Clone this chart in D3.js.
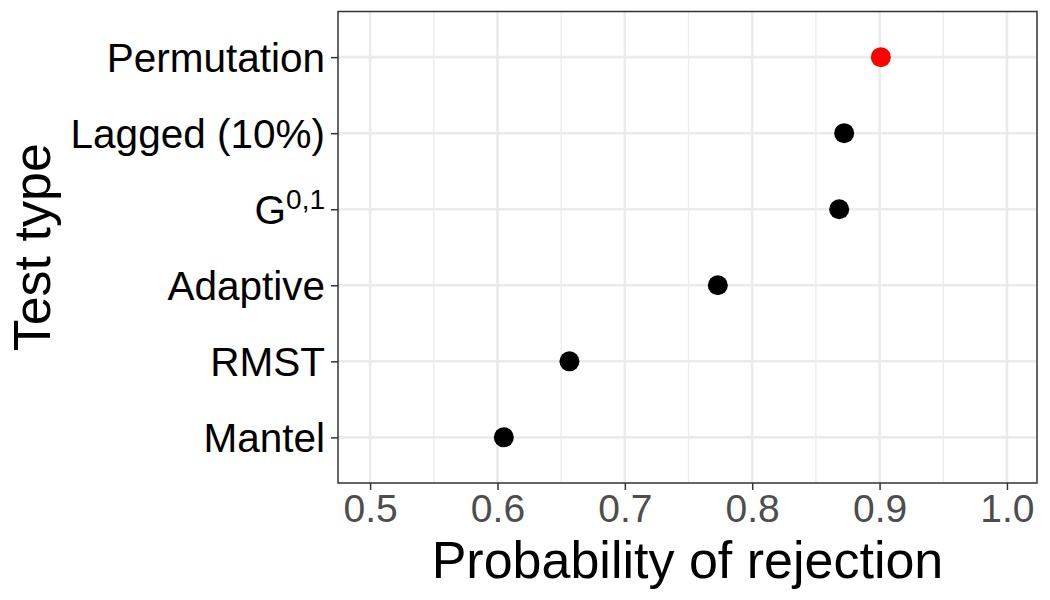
<!DOCTYPE html>
<html>
<head>
<meta charset="utf-8">
<script src="https://cdn.jsdelivr.net/npm/d3@7"></script>
<style>
  body { margin: 0; background: #fff; }
  svg text { font-family: "Liberation Sans", Arial, sans-serif; }
</style>
</head>
<body>
<div id="chart"></div>
<script>
// categories from bottom to top
const testTypes = ["Mantel", "RMST", "Adaptive", "G01", "Lagged (10%)", "Permutation"];
const rejectionProb = [0.605, 0.6565, 0.773, 0.8683, 0.8722, 0.901];
const pointColors = ["black", "black", "black", "black", "black", "red"];
const xTicks = [0.5, 0.6, 0.7, 0.8, 0.9, 1.0];
const xMinorTicks = [0.55, 0.65, 0.75, 0.85, 0.95];

const width = 1050;
const height = 600;
const margin = { top: 11.5, right: 13, bottom: 117, left: 338 };
const plotW = width - margin.left - margin.right;
const plotH = height - margin.top - margin.bottom;

const svg = d3.select("#chart")
    .append("svg")
    .attr("width", width)
    .attr("height", height);

const g = svg.append("g")
    .attr("transform", `translate(${margin.left},${margin.top})`);

const x = d3.scaleLinear()
    .domain([0.4748, 1.0236])
    .range([0, plotW]);

// ggplot discrete axis: 0.6 units of padding each side
const yIdx = d3.scaleLinear()
    .domain([0.4, testTypes.length + 0.6])
    .range([plotH, 0]);
const y = name => yIdx(testTypes.indexOf(name) + 1);

// minor grid
g.append("g")
    .selectAll("line")
    .data(xMinorTicks)
    .enter().append("line")
    .attr("x1", d => x(d)).attr("x2", d => x(d))
    .attr("y1", 0).attr("y2", plotH)
    .attr("stroke", "#ebebeb")
    .attr("stroke-width", 1.3);

// major grid
g.append("g")
    .selectAll("line")
    .data(xTicks)
    .enter().append("line")
    .attr("x1", d => x(d)).attr("x2", d => x(d))
    .attr("y1", 0).attr("y2", plotH)
    .attr("stroke", "#ebebeb")
    .attr("stroke-width", 2.6);

g.append("g")
    .selectAll("line")
    .data(testTypes)
    .enter().append("line")
    .attr("x1", 0).attr("x2", plotW)
    .attr("y1", d => y(d)).attr("y2", d => y(d))
    .attr("stroke", "#ebebeb")
    .attr("stroke-width", 2.6);

// points
g.append("g")
    .selectAll("circle")
    .data(testTypes)
    .enter().append("circle")
    .attr("cx", (d, i) => x(rejectionProb[i]))
    .attr("cy", d => y(d))
    .attr("r", 10)
    .attr("fill", (d, i) => pointColors[i]);

// panel border
g.append("rect")
    .attr("width", plotW)
    .attr("height", plotH)
    .attr("fill", "none")
    .attr("stroke", "#333333")
    .attr("stroke-width", 1.5);

// x axis
const xAxis = g.append("g")
    .attr("transform", `translate(0,${plotH})`)
    .call(d3.axisBottom(x).tickValues(xTicks).tickFormat(d3.format(".1f")).tickSize(7).tickPadding(4));
xAxis.select(".domain").remove();
xAxis.selectAll("line").attr("stroke", "#333333").attr("stroke-width", 1.5);
xAxis.selectAll("text")
    .attr("fill", "#4d4d4d")
    .style("font-size", "39px");

// y axis
const yAxis = g.append("g")
    .call(d3.axisLeft(d3.scalePoint().domain(testTypes).range([y(testTypes[0]), y(testTypes[testTypes.length - 1])]))
        .tickSize(7).tickPadding(6));
yAxis.select(".domain").remove();
yAxis.selectAll("line").attr("stroke", "#333333").attr("stroke-width", 1.5);
yAxis.selectAll("text")
    .attr("fill", "black")
    .attr("dy", "0.36em")
    .style("font-size", "40.5px")
    .each(function(d) {
        if (d === "G01") {
            const t = d3.select(this).text("G");
            t.append("tspan")
                .attr("dy", "-0.55em")
                .style("font-size", "28px")
                .text("0,1");
        }
    });

// axis titles
svg.append("text")
    .attr("x", margin.left + plotW / 2)
    .attr("y", 578)
    .attr("text-anchor", "middle")
    .style("font-size", "52px")
    .text("Probability of rejection");

svg.append("text")
    .attr("transform", `translate(49.5,${margin.top + plotH / 2}) rotate(-90)`)
    .attr("text-anchor", "middle")
    .style("font-size", "52px")
    .text("Test type");
</script>
</body>
</html>
